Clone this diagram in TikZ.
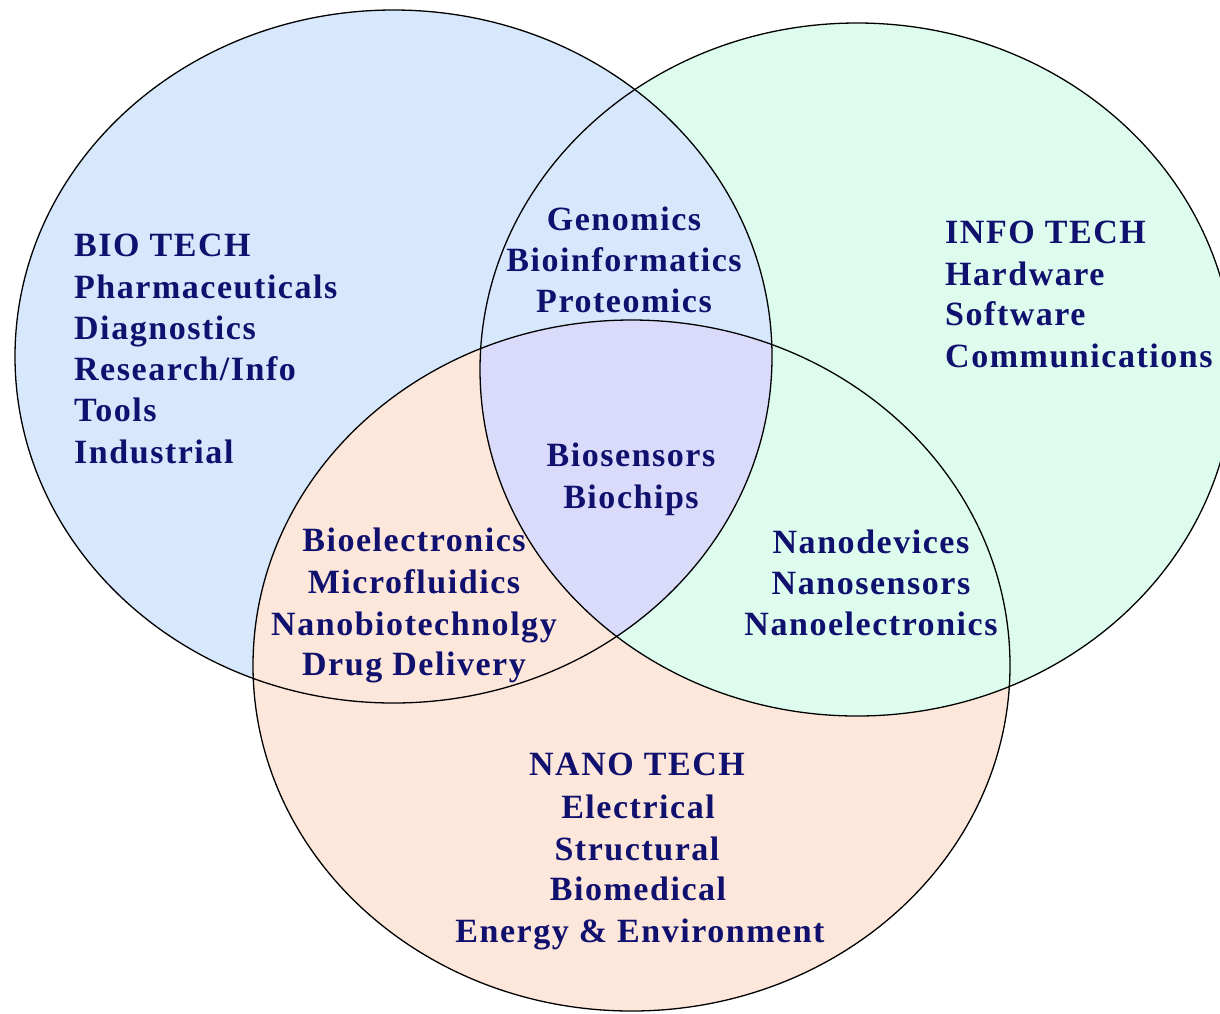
\documentclass[tikz,border=0pt]{standalone}
\usepackage{fontspec}
\setmainfont{Liberation Serif}
\newfontfamily\labfont[LetterSpace=4.5]{Liberation Serif}
\definecolor{bluefill}{RGB}{215,232,253}
\definecolor{greenfill}{RGB}{222,252,238}
\definecolor{orangefill}{RGB}{253,231,218}
\definecolor{lavfill}{RGB}{218,218,250}
\definecolor{navy}{RGB}{16,16,110}
\tikzset{
  lbl/.style={font=\labfont\bfseries\fontsize{34}{41}\selectfont, text=navy, inner sep=0pt},
  lleft/.style={lbl, anchor=base west},
  lmid/.style={lbl, anchor=base},
  rim/.style={draw=black, line width=1.3pt},
}
\begin{document}
\begin{tikzpicture}[x=1pt,y=-1pt]
\useasboundingbox (0,0) rectangle (1220,1013);
\clip (0,0) rectangle (1220,1013);
\fill[white] (0,0) rectangle (1220,1013);
% ellipses
\def\bioE{(393.5,356.5) ellipse [x radius=378.5, y radius=346.5]}
\def\infoE{(857,369.5) ellipse [x radius=377, y radius=346.5]}
\def\nanoE{(631.5,665.5) ellipse [x radius=378.5, y radius=345.5]}
\fill[bluefill] \bioE;
\fill[greenfill] \infoE;
\begin{scope}
  \clip \bioE;
  \fill[bluefill] \infoE;
\end{scope}
\fill[orangefill] \nanoE;
\begin{scope}
  \clip \infoE;
  \fill[greenfill] \nanoE;
\end{scope}
\begin{scope}
  \clip \bioE;
  \clip \infoE;
  \fill[lavfill] \nanoE;
\end{scope}
\draw[rim] \bioE;
\draw[rim] \infoE;
\draw[rim] \nanoE;
% BIO TECH
\node[lleft] (b1) at (74,256) {BIO TECH};
\node[lleft] (b2) at (74,298) {Pharmaceuticals};
\node[lleft] (b3) at (74,339) {Diagnostics};
\node[lleft] (b4) at (74,380) {Research/Info};
\node[lleft] (b5) at (74,421) {Tools};
\node[lleft] (b6) at (74,463) {Industrial};
% INFO TECH
\node[lleft] (i1) at (945,243) {INFO TECH};
\node[lleft] (i2) at (945,285) {Hardware};
\node[lleft] (i3) at (945,325) {Software};
\node[lleft] (i4) at (945,367) {Communications};
% bio-info
\node[lmid] (bi1) at (624,230) {Genomics};
\node[lmid] (bi2) at (624,271) {Bioinformatics};
\node[lmid] (bi3) at (624,312) {Proteomics};
% center
\node[lmid] (c1) at (631,466) {Biosensors};
\node[lmid] (c2) at (631,508) {Biochips};
% bio-nano
\node[lmid] (bn1) at (414,551) {Bioelectronics};
\node[lmid] (bn2) at (414,593) {Microfluidics};
\node[lmid] (bn3) at (414,635) {Nanobiotechnolgy};
\node[lmid] (bn4) at (414,675) {Drug Delivery};
% info-nano
\node[lmid] (in1) at (871,553) {Nanodevices};
\node[lmid] (in2) at (871,594) {Nanosensors};
\node[lmid] (in3) at (871,635) {Nanoelectronics};
% NANO TECH
\node[lmid] (n1) at (637,775) {NANO TECH};
\node[lmid] (n2) at (638,818) {Electrical};
\node[lmid] (n3) at (637,860) {Structural};
\node[lmid] (n4) at (638,900) {Biomedical};
\node[lmid] (n5) at (640,942) {Energy \& Environment};
\end{tikzpicture}
\end{document}
